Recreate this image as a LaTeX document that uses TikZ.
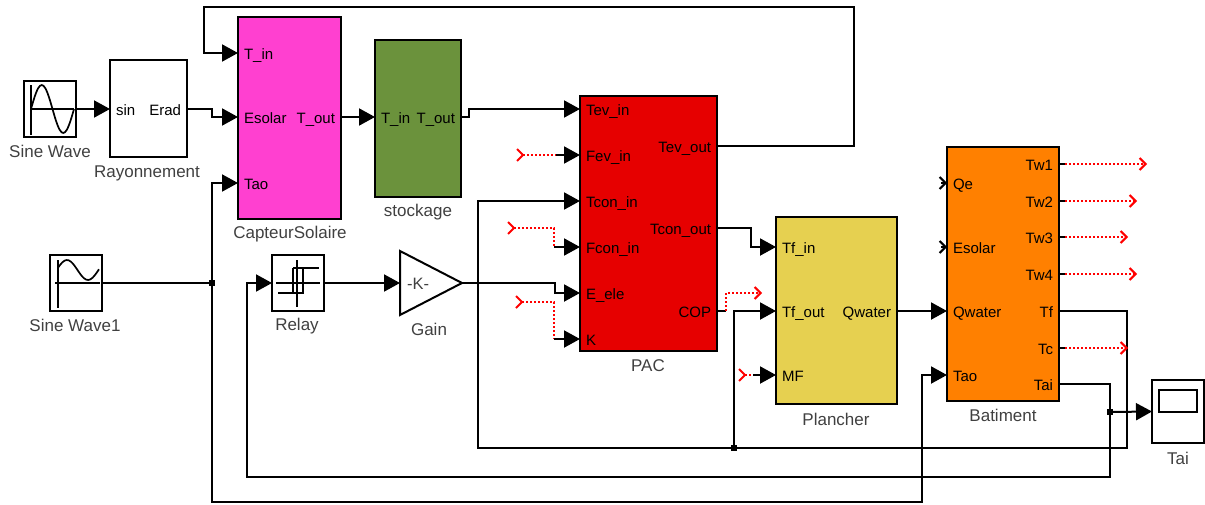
\documentclass[tikz,border=0pt]{standalone}
\usepackage{fontspec}
\setmainfont{Liberation Sans}
\usetikzlibrary{arrows.meta,shapes.geometric}

\definecolor{solarpink}{RGB}{255,64,208}
\definecolor{storegreen}{RGB}{107,146,60}
\definecolor{pacred}{RGB}{230,0,0}
\definecolor{floorgold}{RGB}{230,208,80}
\definecolor{houseorange}{RGB}{255,128,0}

\begin{document}
\begin{tikzpicture}[x=1pt,y=-1pt,
  font=\fontsize{15}{17}\selectfont,
  block/.style={draw,line width=2pt,inner sep=0pt,outer sep=0pt},
  portin/.style={anchor=west,inner xsep=6pt,inner ysep=0pt,outer sep=0pt,text height=12pt,text depth=0pt},
  portout/.style={anchor=east,inner xsep=6pt,inner ysep=0pt,outer sep=0pt,text height=12pt,text depth=0pt},
  blockname/.style={font=\fontsize{17}{19}\selectfont,text=black!75,inner sep=0pt},
  junction/.style={fill,rectangle,minimum size=6pt,inner sep=0pt,outer sep=0pt},
  wire/.style={line width=2pt},
  feed/.style={wire,-{Triangle[length=16pt,width=17pt]}},
  redin/.style={red,line width=2pt,dash pattern=on 2pt off 2pt,{Straight Barb[reversed,length=6pt,width=12pt]}-},
  redout/.style={red,line width=2pt,dash pattern=on 2pt off 2pt,-{Straight Barb[length=6pt,width=12pt]}},
  openport/.style={line width=2pt,-{Straight Barb[length=6pt,width=12pt]}},
  icon/.style={line width=1.7pt}]
\useasboundingbox (0,0) rectangle (1205,504);

\node[block,minimum width=52pt,minimum height=56pt] (sine) at (50,109) {};
\node[block,minimum width=77pt,minimum height=97pt] (ray) at (148.5,108.5) {};
\node[block,fill=solarpink,minimum width=103pt,minimum height=202pt] (capteur) at (289.5,118) {};
\node[block,fill=storegreen,minimum width=86pt,minimum height=157pt] (stock) at (418,118.5) {};
\node[block,fill=pacred,minimum width=137pt,minimum height=255pt] (pac) at (648.5,223.5) {};
\node[block,fill=floorgold,minimum width=121pt,minimum height=187pt] (plancher) at (836.5,310.5) {};
\node[block,fill=houseorange,minimum width=112pt,minimum height=254pt] (bat) at (1003,274) {};
\node[block,minimum width=52pt,minimum height=63pt] (scope) at (1178,411.5) {};
\node[block,minimum width=38pt,minimum height=22pt] (screen) at (1178,401) {};
\node[block,minimum width=52pt,minimum height=56pt] (sineB) at (76,283) {};
\node[block,minimum width=52pt,minimum height=56pt] (relay) at (298,283) {};
\node[block,isosceles triangle,isosceles triangle stretches,minimum width=64pt,minimum height=62pt,anchor=west] (gain) at (400,283) {};
\node[inner sep=0pt,text=black!75,font=\fontsize{16.5}{18}\selectfont] (gaink) at (418,284) {-K-};

\node[blockname] (sinename) at (50,151) {Sine Wave};
\node[blockname] (rayname) at (147,173) {Rayonnement};
\node[blockname] (capteurname) at (290,234) {CapteurSolaire};
\node[blockname] (stockname) at (418,212) {stockage};
\node[blockname] (pacname) at (648,366) {PAC};
\node[blockname] (planchername) at (836,419) {Plancher};
\node[blockname] (batname) at (1003,415) {Batiment};
\node[blockname] (scopename) at (1178,458) {Tai};
\node[blockname] (sineBname) at (75,325) {Sine Wave1};
\node[blockname] (relayname) at (297,326) {Relay};
\node[blockname] (gainname) at (429,329) {Gain};

\node[portin] (raySin) at (110,109) {sin};
\node[portout] (rayErad) at (187,109) {Erad};
\node[portin] (capTin) at (238,53) {T\_in};
\node[portin] (capEsolar) at (238,117) {Esolar};
\node[portin] (capTao) at (238,183) {Tao};
\node[portout] (capTout) at (341,117) {T\_out};
\node[portin] (stoTin) at (375,117) {T\_in};
\node[portout] (stoTout) at (461,117) {T\_out};
\node[portin] (pacTevin) at (580,109) {Tev\_in};
\node[portin] (pacFevin) at (580,155) {Fev\_in};
\node[portin] (pacTconin) at (580,201) {Tcon\_in};
\node[portin] (pacFconin) at (580,247) {Fcon\_in};
\node[portin] (pacEele) at (580,293) {E\_ele};
\node[portin] (pacK) at (580,339) {K};
\node[portout] (pacTevout) at (717,146) {Tev\_out};
\node[portout] (pacTconout) at (717,228) {Tcon\_out};
\node[portout] (pacCOP) at (717,311) {COP};
\node[portin] (plaTfin) at (776,247) {Tf\_in};
\node[portin] (plaTfout) at (776,311) {Tf\_out};
\node[portin] (plaMF) at (776,375) {MF};
\node[portout] (plaQwater) at (897,311) {Qwater};
\node[portin] (batQe) at (947,183) {Qe};
\node[portin] (batEsolar) at (947,247) {Esolar};
\node[portin] (batQwater) at (947,311) {Qwater};
\node[portin] (batTao) at (947,375) {Tao};
\node[portout] (batTf) at (1059,311) {Tf};
\node[portout] (batTai) at (1059,384) {Tai};

\node[junction] (jTao) at (212,283) {};
\node[junction] (jTf) at (734,448) {};
\node[junction] (jTai) at (1110,412) {};

\coordinate (fevfree) at (516,155);
\coordinate (fconfree) at (507,228);
\coordinate (kfree) at (515,302);
\coordinate (mffree) at (738,375);
\coordinate (copfree) at (762,293);

% icons
\draw[icon] (31,85) -- (31,135) (31,109) -- (74,109);
\draw[icon] plot[smooth,domain=0:43,samples=25] ({31+\x},{109-24*sin(\x*360/43)});
\draw[icon] (58,260) -- (58,308) (55,283) -- (100,283);
\draw[icon] plot[smooth,domain=58:99,samples=20] (\x,{270-10*sin((\x-56.5)*360/42)});
\draw[icon] (297,260) -- (297,307) (276,283) -- (320,283);
\draw[icon] (278,293) -- (303,293) -- (303,268) -- (319,268) (293,268) -- (319,268) (293,268) -- (293,293);

% wires
\draw[feed] (sine.east) -- (raySin.west);
\draw[feed] (rayErad.east) -- (212,109) |- (capEsolar.west);
\draw[feed] (capTout.east) -- (stoTin.west);
\draw[feed] (stoTout.east) -- (469,117) |- (pacTevin.west);
\draw[feed] (pacTevout.east) -- (854,146) |- (204,7) |- (capTin.west);
\draw[wire] (sineB.east) -- (jTao);
\draw[feed] (jTao) |- (capTao.west);
\draw[feed] (jTao) |- (922,502) |- (batTao.west);
\draw[feed] (relay.east) -- (gain.west);
\draw[feed] (gain.east) -- (555,283) |- (pacEele.west);
\draw[feed] (pacTconout.east) -- (751,228) |- (plaTfin.west);
\draw[feed] (plaQwater.east) -- (batQwater.west);
\draw[wire] (batTf.east) -| (1127,448) -- (jTf);
\draw[feed] (jTf) |- (plaTfout.west);
\draw[feed] (jTf) -- (478,448) |- (pacTconin.west);
\draw[wire] (batTai.east) -| (jTai);
\draw[feed] (jTai) -- (scope.west);
\draw[feed] (jTai) |- (247,477) |- (relay.west);

% unconnected ports
\draw[redin] (fevfree) -- (556,155);
\draw[feed] (556,155) -- (pacFevin.west);
\draw[redin] (fconfree) -- (554,228) -- (554,247);
\draw[feed] (554,247) -- (pacFconin.west);
\draw[redin] (kfree) -- (554,302) -- (554,339);
\draw[feed] (554,339) -- (pacK.west);
\draw[redin] (mffree) -- (753,375);
\draw[feed] (753,375) -- (plaMF.west);
\draw[wire] (pacCOP.east) -- (726,311);
\draw[redout] (726,311) -- (726,293) -- (copfree);
\draw[openport] (941,183) -- (batQe.west);
\draw[openport] (941,247) -- (batEsolar.west);
\foreach \name/\y/\endx in {Tw1/164/1147,Tw2/201/1137,Tw3/237/1128,Tw4/274/1137,Tc/348/1128}{
  \node[portout] (bat\name) at (1059,\y) {\name};
  \draw[wire] (bat\name.east) -- ++(6,0) coordinate (stub\name);
  \draw[redout] (stub\name) -- (\endx,\y);
}
\end{tikzpicture}
\end{document}
